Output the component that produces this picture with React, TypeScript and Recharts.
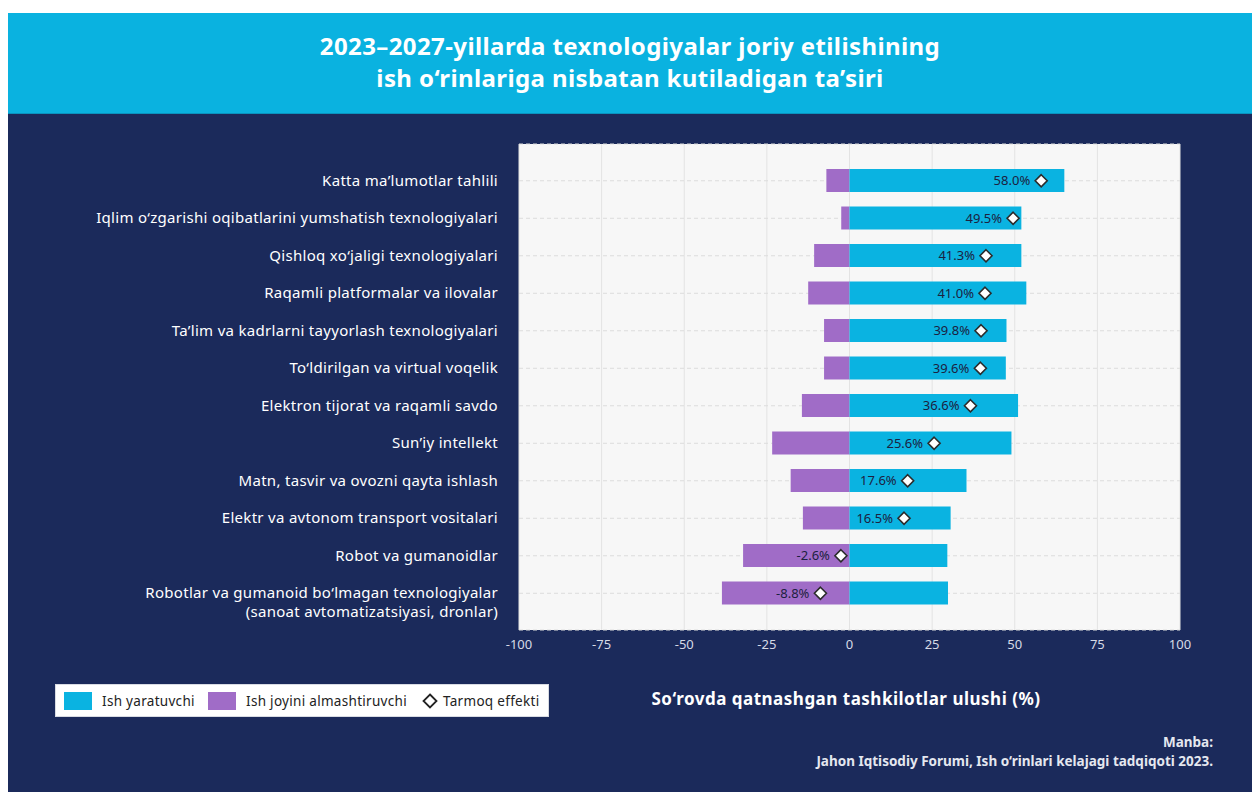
import React from 'react';
import { ComposedChart, Bar, Line, XAxis, YAxis, CartesianGrid } from 'recharts';

const categories = [
  'Katta ma’lumotlar tahlili',
  'Iqlim o‘zgarishi oqibatlarini yumshatish texnologiyalari',
  'Qishloq xo‘jaligi texnologiyalari',
  'Raqamli platformalar va ilovalar',
  'Ta’lim va kadrlarni tayyorlash texnologiyalari',
  'To‘ldirilgan va virtual voqelik',
  'Elektron tijorat va raqamli savdo',
  'Sun’iy intellekt',
  'Matn, tasvir va ovozni qayta ishlash',
  'Elektr va avtonom transport vositalari',
  'Robot va gumanoidlar',
  'Robotlar va gumanoid bo‘lmagan texnologiyalar\n(sanoat avtomatizatsiyasi, dronlar)',
];

// Ish yaratuvchi (job creating), % of organisations
const creating = [65, 52, 52, 53.5, 47.5, 47.3, 51, 49, 35.4, 30.6, 29.6, 29.8];
// Ish joyini almashtiruvchi (job displacing)
const displacing = [-7, -2.5, -10.7, -12.5, -7.7, -7.7, -14.4, -23.4, -17.8, -14.1, -32.2, -38.6];
// Tarmoq effekti (net effect)
const netEffect = [58.0, 49.5, 41.3, 41.0, 39.8, 39.6, 36.6, 25.6, 17.6, 16.5, -2.6, -8.8];

const xTicks = [-100, -75, -50, -25, 0, 25, 50, 75, 100];

const chartData = categories.map((name, i) => ({
  name,
  creating: creating[i],
  displacing: displacing[i],
  net: netEffect[i],
}));

const FONT = '"Noto Sans", sans-serif';
const BLUE = '#0AB3E1';
const PURPLE = '#A06CC7';
const NAVY = '#1B2A5B';

function CategoryTick({ x, y, payload }: any) {
  const lines = String(payload.value).split('\n');
  const tx = x - 13;
  return (
    <text
      x={tx}
      y={y}
      textAnchor="end"
      fill="#ffffff"
      fontSize={15}
      letterSpacing={0.3}
      fontFamily={FONT}
    >
      {lines.map((l, i) => (
        <tspan key={i} x={tx} dy={i === 0 ? 5 : 19}>
          {l}
        </tspan>
      ))}
    </text>
  );
}

function NetDot(props: any) {
  const { cx, cy, payload } = props;
  if (cx == null || cy == null) return null;
  const r = 6;
  return (
    <g>
      <text
        x={cx - 11}
        y={cy}
        dy={4.5}
        textAnchor="end"
        fontSize={13}
        fill="#1c2140"
        fontFamily={FONT}
      >
        {payload.net.toFixed(1)}%
      </text>
      <path
        d={`M${cx},${cy - r}L${cx + r},${cy}L${cx},${cy + r}L${cx - r},${cy}Z`}
        fill="#ffffff"
        stroke="#2b2b2b"
        strokeWidth={1.6}
      />
    </g>
  );
}

function LegendBox() {
  const swatch = (left: number, color: string) => (
    <span
      style={{ position: 'absolute', left, top: 7, width: 28, height: 18, background: color }}
    />
  );
  const label = (left: number, text: string) => (
    <span style={{ position: 'absolute', left, top: 6, lineHeight: '20px' }}>{text}</span>
  );
  return (
    <div
      style={{
        position: 'absolute',
        left: 47,
        top: 570,
        width: 494,
        height: 33,
        background: '#ffffff',
        border: '1px solid #d8dbe3',
        boxSizing: 'border-box',
        fontSize: 13.5,
        letterSpacing: 0.3,
        color: '#222',
        fontFamily: FONT,
      }}
    >
      {swatch(8, BLUE)}
      {label(46, 'Ish yaratuvchi')}
      {swatch(152, PURPLE)}
      {label(190, 'Ish joyini almashtiruvchi')}
      <svg
        width={16}
        height={16}
        style={{ position: 'absolute', left: 366, top: 8 }}
      >
        <path d="M8,1.5L14.5,8L8,14.5L1.5,8Z" fill="#fff" stroke="#222" strokeWidth={1.8} />
      </svg>
      {label(387, 'Tarmoq effekti')}
    </div>
  );
}

export default function App() {
  return (
    <div
      style={{
        position: 'fixed',
        left: 8,
        top: 13,
        width: 1244,
        height: 779,
        fontFamily: FONT,
        background: NAVY,
      }}
    >
      <div
        style={{
          height: 101,
          background: '#0AB2E0',
          color: '#ffffff',
          textAlign: 'center',
          fontWeight: 700,
          fontSize: 24,
          letterSpacing: 0.4,
          lineHeight: '32px',
          paddingTop: 17,
          boxSizing: 'border-box',
          borderBottom: '1px solid #0A93BF',
        }}
      >
        2023–2027-yillarda texnologiyalar joriy etilishining
        <br />
        ish o‘rinlariga nisbatan kutiladigan ta’siri
      </div>

      <div style={{ position: 'absolute', left: 0, top: 101, width: 1244, height: 678 }}>
        <ComposedChart
          width={1244}
          height={678}
          data={chartData}
          layout="vertical"
          stackOffset="sign"
          margin={{ top: 30, right: 72, bottom: 132, left: 0 }}
        >
          <CartesianGrid horizontal={false} stroke="#e3e3e3" fill="#f7f7f7" />
          <CartesianGrid vertical={false} stroke="#dcdcdc" strokeDasharray="4 3" />
          <XAxis
            type="number"
            domain={[-100, 100]}
            ticks={xTicks}
            axisLine={false}
            tickLine={false}
            tickMargin={4}
            tick={{ fill: '#d6dae6', fontSize: 13, fontFamily: FONT }}
            height={30}
          />
          <YAxis
            type="category"
            dataKey="name"
            width={511}
            interval={0}
            axisLine={false}
            tickLine={false}
            padding={{ top: 18, bottom: 18 }}
            tick={<CategoryTick />}
          />
          <Bar
            dataKey="displacing"
            stackId="a"
            fill={PURPLE}
            barSize={23}
            isAnimationActive={false}
          />
          <Bar
            dataKey="creating"
            stackId="a"
            fill={BLUE}
            barSize={23}
            isAnimationActive={false}
          />
          <Line
            dataKey="net"
            stroke="none"
            dot={<NetDot />}
            activeDot={false}
            isAnimationActive={false}
          />
        </ComposedChart>

        <LegendBox />

        <div
          style={{
            position: 'absolute',
            left: 588,
            top: 573,
            width: 500,
            textAlign: 'center',
            color: '#ffffff',
            fontWeight: 700,
            fontSize: 17,
            letterSpacing: 0.5,
          }}
        >
          So‘rovda qatnashgan tashkilotlar ulushi (%)
        </div>

        <div
          style={{
            position: 'absolute',
            right: 39,
            top: 619,
            textAlign: 'right',
            color: '#e4e7ef',
            fontWeight: 700,
            fontSize: 13.5,
            lineHeight: '19px',
          }}
        >
          Manba:
          <br />
          Jahon Iqtisodiy Forumi, Ish o‘rinlari kelajagi tadqiqoti 2023.
        </div>
      </div>
    </div>
  );
}
